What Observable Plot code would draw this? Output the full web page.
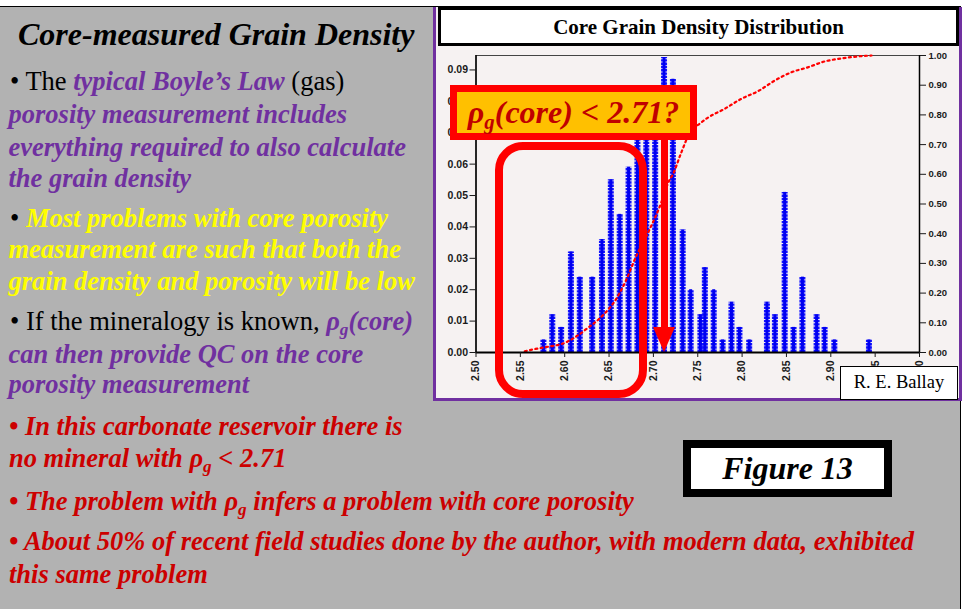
<!DOCTYPE html>
<html>
<head>
<meta charset="utf-8">
<script src="https://cdn.jsdelivr.net/npm/d3@7"></script>
<script src="https://cdn.jsdelivr.net/npm/@observablehq/plot@0.6"></script>
<style>
  html, body { margin: 0; padding: 0; }
  body { width: 966px; height: 609px; position: relative; overflow: hidden; background: #ffffff; font-family: "Liberation Serif", "Times New Roman", serif; }
  .abs { position: absolute; box-sizing: border-box; }
  #slide { left: 0; top: 6px; width: 961px; height: 603px; background: #b2b2b2; border-top: 1px solid #000; border-right: 1px solid #000; }
  #panel { left: 433px; top: 7px; width: 529px; height: 394px; background: #f6f2f2; border-left: 3px solid #7030a0; border-right: 3px solid #7030a0; border-bottom: 3px solid #7030a0; }
  #charttitle { left: 438px; top: 7px; width: 521px; height: 39px; background: #fff; border: 3px solid #000; font-weight: bold; font-size: 21px; text-align: center; line-height: 34px; color: #000; }
  #plotwrap { left: 436px; top: 46px; }
  .ln { position: absolute; white-space: nowrap; font-size: 26.5px; line-height: 26.5px; }
  .k { color: #000; font-weight: normal; font-style: normal; }
  .p { color: #7030a0; font-weight: bold; font-style: italic; }
  .y { color: #ffff00; font-weight: bold; font-style: italic; }
  .r { color: #cc0000; font-weight: bold; font-style: italic; }
  .sub { font-size: 0.65em; position: relative; top: 0.3em; }
  #slidetitle { position: absolute; left: 18px; top: 17.5px; font-size: 32px; line-height: 32px; font-weight: bold; font-style: italic; color: #000; white-space: nowrap; }
  #qbox { left: 450px; top: 85px; width: 247px; height: 55px; border: 7.5px solid #ff0000; background: #ffc000; color: #c00000; font-weight: bold; font-style: italic; font-size: 32px; line-height: 40px; text-align: center; white-space: nowrap; }
  #rrect { left: 495px; top: 142px; width: 152px; height: 256px; border: 8px solid #ff0000; border-radius: 28px; }
  #shaft { left: 661px; top: 140px; width: 7px; height: 188px; background: #ff0000; }
  #head { left: 653px; top: 327px; width: 0; height: 0; border-left: 11.5px solid transparent; border-right: 11.5px solid transparent; border-top: 25px solid #ff0000; }
  #ballay { left: 840px; top: 366px; width: 118px; height: 34px; background: #fff; border: 1.5px solid #000; font-size: 18.5px; line-height: 31px; text-align: center; color: #000; }
  #fig { left: 683px; top: 440px; width: 209px; height: 57px; background: #fff; border: 8px solid #000; font-size: 32px; font-weight: bold; font-style: italic; line-height: 41px; text-align: center; color: #000; }
  #plotwrap svg text { font-weight: bold; }
</style>
</head>
<body>
<div id="slide" class="abs"></div>
<div id="panel" class="abs"></div>
<div id="charttitle" class="abs">Core Grain Density Distribution</div>
<div id="plotwrap" class="abs"></div>

<div id="slidetitle">Core-measured Grain Density</div>
<div class="ln" style="left:10px;top:67.8px"><span class="k">• The </span><span class="p">typical Boyle’s Law</span><span class="k"> (gas)</span></div>
<div class="ln p" style="left:8.5px;top:101.1px">porosity measurement includes</div>
<div class="ln p" style="left:8.5px;top:133.5px">everything required to also calculate</div>
<div class="ln p" style="left:8.5px;top:164.5px">the grain density</div>
<div class="ln" style="left:10px;top:204.5px"><span class="k">• </span><span class="y">Most problems with core porosity</span></div>
<div class="ln y" style="left:8.5px;top:236.1px">measurement are such that both the</div>
<div class="ln y" style="left:8.5px;top:267.8px">grain density and porosity will be low</div>
<div class="ln" style="left:10px;top:307.8px"><span class="k">• If the mineralogy is known, </span><span class="p">ρ<span class="sub">g</span>(core)</span></div>
<div class="ln p" style="left:8.5px;top:341.1px">can then provide QC on the core</div>
<div class="ln p" style="left:8.5px;top:371.1px">porosity measurement</div>
<div class="ln r" style="left:9px;top:412.8px">• In this carbonate reservoir there is</div>
<div class="ln r" style="left:9px;top:444.5px">no mineral with ρ<span class="sub">g</span> &lt; 2.71</div>
<div class="ln r" style="left:9px;top:487.8px">• The problem with ρ<span class="sub">g</span> infers a problem with core porosity</div>
<div class="ln r" style="left:9px;top:527.8px">• About 50% of recent field studies done by the author, with modern data, exhibited</div>
<div class="ln r" style="left:9px;top:561.1px">this same problem</div>

<div id="rrect" class="abs"></div>
<div id="shaft" class="abs"></div>
<div id="head" class="abs"></div>
<div id="qbox" class="abs">ρ<span class="sub">g</span>(core) &lt; 2.71?</div>
<div id="ballay" class="abs">R. E. Ballay</div>
<div id="fig" class="abs">Figure 13</div>

<script>
// Grain density bin positions (g/cc) and relative frequency (left axis)
const densityBins = [2.576, 2.586, 2.596, 2.607, 2.617, 2.631, 2.642, 2.652, 2.662, 2.672,
                     2.682, 2.692, 2.702, 2.712, 2.722, 2.733, 2.742, 2.753, 2.758, 2.768,
                     2.778, 2.788, 2.797, 2.808, 2.828, 2.837, 2.848, 2.858, 2.868, 2.884,
                     2.893, 2.904, 2.943];
const frequency = [0.004, 0.012, 0.008, 0.032, 0.024, 0.024, 0.036, 0.055, 0.044, 0.059,
                   0.074, 0.080, 0.082, 0.094, 0.087, 0.039, 0.020, 0.012, 0.027, 0.020,
                   0.004, 0.016, 0.008, 0.004, 0.016, 0.012, 0.051, 0.008, 0.024, 0.012,
                   0.008, 0.004, 0.004];
// Cumulative curve (right axis)
const cumDensity = [2.555, 2.567, 2.584, 2.597, 2.612, 2.627, 2.643, 2.658, 2.669, 2.680,
                    2.695, 2.707, 2.718, 2.722, 2.731, 2.742, 2.752, 2.761, 2.780, 2.799,
                    2.818, 2.837, 2.856, 2.874, 2.893, 2.912, 2.931, 2.946];
const cumFraction = [0.004, 0.012, 0.021, 0.029, 0.052, 0.085, 0.125, 0.180, 0.242, 0.320,
                     0.410, 0.490, 0.580, 0.600, 0.670, 0.745, 0.770, 0.790, 0.820, 0.854,
                     0.880, 0.916, 0.944, 0.960, 0.980, 0.990, 0.997, 1.000];
const leftTicks = [0, 0.01, 0.02, 0.03, 0.04, 0.05, 0.06, 0.07, 0.08, 0.09];
const rightTicks = [0, 0.1, 0.2, 0.3, 0.4, 0.5, 0.6, 0.7, 0.8, 0.9, 1.0];
const xTicks = [2.50, 2.55, 2.60, 2.65, 2.70, 2.75, 2.80, 2.85, 2.90, 2.95, 3.00];
const Y_MAX = 0.0946;

const bars = densityBins.map((x, i) => ({x, f: frequency[i]}));
const cum = cumDensity.map((x, i) => ({x, c: cumFraction[i] * Y_MAX}));

const chart = Plot.plot({
  width: 522,
  height: 352,
  marginLeft: 39.5,
  marginRight: 39,
  marginTop: 9,
  marginBottom: 46,
  style: {background: "transparent", fontFamily: "'Liberation Sans', Arial, sans-serif", fontSize: "10px", fontWeight: "bold", color: "#1a1a1a", overflow: "visible"},
  x: {domain: [2.5, 3.0], label: null},
  y: {domain: [0, Y_MAX], label: null},
  marks: [
    Plot.frame({stroke: "#444", strokeWidth: 1}),
    Plot.ruleX(bars, {x: "x", y1: 0, y2: "f", stroke: "#1414ff", strokeWidth: 6, strokeDasharray: "2.4,0.9"}),
    Plot.ruleX(bars, {x: "x", y1: 0, y2: "f", stroke: "#0000f0", strokeWidth: 3}),
    Plot.line(cum, {x: "x", y: "c", stroke: "#ff0000", strokeWidth: 2.2, strokeDasharray: "2,3.4", curve: "monotone-x"}),
    Plot.ruleY([0], {stroke: "#000", strokeWidth: 2}),
    Plot.ruleX([2.5], {stroke: "#000", strokeWidth: 1.5}),
    Plot.ruleX([3.0], {stroke: "#000", strokeWidth: 1.5}),
    Plot.axisY(leftTicks, {anchor: "left", label: null, tickFormat: d => d.toFixed(2), tickSize: 6, tickPadding: 2, fontSize: 10.5}),
    Plot.axisY(rightTicks.map(v => v * Y_MAX), {anchor: "right", label: null, tickFormat: d => (d / Y_MAX).toFixed(2), tickSize: 6, tickPadding: 3, fontSize: 9.5}),
    Plot.axisX(xTicks, {anchor: "bottom", label: null, tickFormat: d => d.toFixed(2), tickRotate: -90, tickSize: 5, tickPadding: 3, fontSize: 10.5})
  ]
});
document.getElementById("plotwrap").appendChild(chart);
</script>
</body>
</html>
